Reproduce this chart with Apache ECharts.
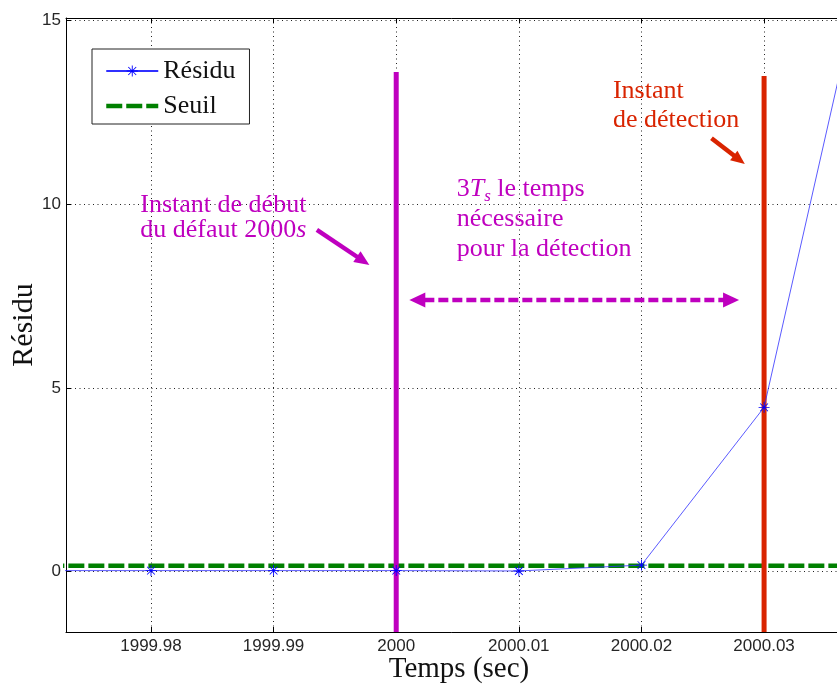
<!DOCTYPE html>
<html><head><meta charset="utf-8">
<script src="https://cdn.jsdelivr.net/npm/echarts@6/dist/echarts.min.js"></script>
<style>html,body{margin:0;padding:0;background:#fff}#c{width:837px;height:684px}</style>
</head><body><div id="c"></div>
<script>
// ---- data ----
const xTicks = [1999.98, 1999.99, 2000, 2000.01, 2000.02, 2000.03];
const xTickLabels = ['1999.98', '1999.99', '2000', '2000.01', '2000.02', '2000.03'];
const yTicks = [0, 5, 10, 15];
const yTickLabels = ['0', '5', '10', '15'];
const temps = [1999.97, 1999.98, 1999.99, 2000, 2000.01, 2000.02, 2000.03, 2000.04];
const residu = [0.03, 0.03, 0.03, 0.03, 0.02, 0.18, 4.47, 19.2];
const seuilX = [1999.97, 2000.04];
const seuilY = [0.16, 0.16];
const debutX = [2000, 2000];
const debutY = [-1.64, 13.59];
const detectX = [2000.03, 2000.03];
const detectY = [-1.64, 13.48];
// annotations (data coordinates)
const arrowDebut = [[1999.99353, 9.30], [1999.99781, 8.34]];
const arrowDetect = [[2000.02571, 11.79], [2000.02843, 11.09]];
const arrowDuree = [[2000.00107, 7.39], [2000.02796, 7.39]];
const textDebut = [[1999.97913, 9.98], [1999.97913, 9.29]];
const textDuree = [[2000.00493, 10.40], [2000.00493, 9.58], [2000.00493, 8.77]];
const textDetect = [[2000.01767, 13.08], [2000.01767, 12.27]];

const X_MIN = 1999.97307, X_MAX = 2000.03717, Y_MIN = -1.64, Y_MAX = 15.06;
const MAGENTA = '#bf00bf', RED = '#d92400', GREEN = '#008000', BLUE = '#0000ff';
const SERIF = '"Liberation Serif", "Times New Roman", serif';
const SANS = '"Liberation Sans", Arial, sans-serif';

const asterisk = 'path://M9.2 0L10.8 0L10.8 20L9.2 20ZM0 9.2L20 9.2L20 10.8L0 10.8ZM3.5 2.36L17.64 16.5L16.5 17.64L2.36 3.5ZM17.64 3.5L3.5 17.64L2.36 16.5L16.5 2.36Z';

function lab(vals, labels) {
  return function (v) {
    for (let i = 0; i < vals.length; i++) if (Math.abs(v - vals[i]) < 1e-7) return labels[i];
    return '';
  };
}
const grid = { left: 66, right: -15, top: 18, bottom: 52, containLabel: false, outerBoundsMode: 'none' };
const gridLine = { show: true, lineStyle: { color: '#222', width: 1, type: [1, 3.5] } };
const seuilStyle = { color: GREEN, width: 4.5, type: [16, 4], cap: 'butt' };

const option = {
  animation: false,
  backgroundColor: '#fff',
  grid: grid,
  legend: {
    data: [{ name: 'Résidu' }, { name: 'Seuil', itemStyle: { opacity: 0 }, lineStyle: seuilStyle }],
    orient: 'vertical', left: 92, top: 49,
    padding: [9, 14, 5, 12],
    itemWidth: 52, itemHeight: 14, itemGap: 9,
    backgroundColor: '#fff', borderColor: '#222', borderWidth: 1,
    selectedMode: false,
    textStyle: { fontFamily: SERIF, fontSize: 26, color: '#111' }
  },
  xAxis: [{
    type: 'value', position: 'bottom', min: X_MIN, max: X_MAX,
    axisLine: { show: true, onZero: false, lineStyle: { color: '#000', width: 1 } },
    axisTick: { show: true, inside: true, length: 5, customValues: xTicks, lineStyle: { color: '#000' } },
    axisLabel: { customValues: xTicks, formatter: lab(xTicks, xTickLabels), fontFamily: SANS, fontSize: 17, color: '#262626', margin: 6 },
    splitLine: gridLine,
    name: 'Temps (sec)', nameLocation: 'middle', nameGap: 23, nameMoveOverlap: false,
    nameTextStyle: { fontFamily: SERIF, fontSize: 29, color: '#111' }
  }, {
    type: 'value', position: 'top', min: X_MIN, max: X_MAX,
    axisLine: { show: true, onZero: false, lineStyle: { color: '#000', width: 1 } },
    axisTick: { show: true, inside: true, length: 5, customValues: xTicks, lineStyle: { color: '#000' } },
    axisLabel: { show: false }, splitLine: { show: false }
  }],
  yAxis: [{
    type: 'value', position: 'left', min: Y_MIN, max: Y_MAX,
    axisLine: { show: true, onZero: false, lineStyle: { color: '#000', width: 1 } },
    axisTick: { show: true, inside: true, length: 5, customValues: yTicks, lineStyle: { color: '#000' } },
    axisLabel: { customValues: yTicks, formatter: lab(yTicks, yTickLabels), fontFamily: SANS, fontSize: 17, color: '#262626', margin: 5 },
    splitLine: gridLine,
    name: 'Résidu', nameLocation: 'middle', nameGap: 27, nameRotate: 90, nameMoveOverlap: false,
    nameTextStyle: { fontFamily: SERIF, fontSize: 30, color: '#111' }
  }],
  series: [{
    name: 'Seuil', type: 'line', z: 2, silent: true,
    data: seuilX.map((x, i) => [x, seuilY[i]]),
    symbol: 'none',
    lineStyle: seuilStyle,
    itemStyle: { color: GREEN }
  }, {
    name: 'debut', type: 'line', z: 3, silent: true,
    data: debutX.map((x, i) => [x, debutY[i]]),
    symbol: 'none', lineStyle: { color: MAGENTA, width: 5, cap: 'butt' }
  }, {
    name: 'detect', type: 'line', z: 3, silent: true,
    data: detectX.map((x, i) => [x, detectY[i]]),
    symbol: 'none', lineStyle: { color: RED, width: 5, cap: 'butt' }
  }, {
    name: 'Résidu', type: 'line', z: 4, silent: true,
    data: temps.map((x, i) => [x, residu[i]]),
    symbol: asterisk, symbolSize: 11, showAllSymbol: true,
    lineStyle: { color: '#3030ff', width: 0.8 },
    itemStyle: { color: BLUE }
  }]
};

const chart = echarts.init(document.getElementById('c'));
chart.setOption(option);

function px(p) { return chart.convertToPixel({ xAxisIndex: 0, yAxisIndex: 0 }, p); }
const gfx = [];
function head(tip, dir, L, W, color) {
  const bx = tip[0] - dir[0] * L, by = tip[1] - dir[1] * L;
  const nx = -dir[1], ny = dir[0];
  gfx.push({ type: 'polygon', z: 100, shape: { points: [tip, [bx + nx * W / 2, by + ny * W / 2], [bx - nx * W / 2, by - ny * W / 2]] }, style: { fill: color } });
}
function arrow(a, b, color, w, L, W, dash, both) {
  const p0 = px(a), p1 = px(b);
  const dx = p1[0] - p0[0], dy = p1[1] - p0[1], len = Math.hypot(dx, dy);
  const d = [dx / len, dy / len];
  const s = both ? [p0[0] + d[0] * (L - 1), p0[1] + d[1] * (L - 1)] : p0;
  const e = [p1[0] - d[0] * (L - 1), p1[1] - d[1] * (L - 1)];
  gfx.push({ type: 'line', z: 100, shape: { x1: s[0], y1: s[1], x2: e[0], y2: e[1] }, style: { stroke: color, lineWidth: w, lineDash: dash || null, lineCap: 'butt' } });
  head(p1, d, L, W, color);
  if (both) head(p0, [-d[0], -d[1]], L, W, color);
}
function txt(p, text, color, rich) {
  const q = px(p);
  const st = { text: text, fill: color, fontFamily: SERIF, fontSize: 26, align: 'left', verticalAlign: 'middle' };
  if (rich) st.rich = rich;
  gfx.push({ type: 'text', z: 101, x: q[0], y: q[1], style: st });
}
arrow(arrowDebut[0], arrowDebut[1], MAGENTA, 4.5, 15, 13, null, false);
arrow(arrowDetect[0], arrowDetect[1], RED, 4.5, 14, 12, null, false);
arrow(arrowDuree[0], arrowDuree[1], MAGENTA, 4.5, 16, 15, [10, 4], true);

const richM = {
  n: { fontFamily: SERIF, fontSize: 26, color: MAGENTA },
  i: { fontFamily: SERIF, fontSize: 26, fontStyle: 'italic', color: MAGENTA },
  sub: { fontFamily: SERIF, fontSize: 17, fontStyle: 'italic', color: MAGENTA, padding: [14, 0, 0, 0] }
};
txt(textDebut[0], 'Instant de début', MAGENTA);
txt(textDebut[1], '{n|du défaut 2000}{i|s}', MAGENTA, richM);
txt(textDuree[0], '{n|3}{i|T}{sub|s}{n| le temps}', MAGENTA, richM);
txt(textDuree[1], 'nécessaire', MAGENTA);
txt(textDuree[2], 'pour la détection', MAGENTA);
txt(textDetect[0], 'Instant', RED);
txt(textDetect[1], 'de détection', RED);

chart.setOption({ graphic: gfx });
</script></body></html>
